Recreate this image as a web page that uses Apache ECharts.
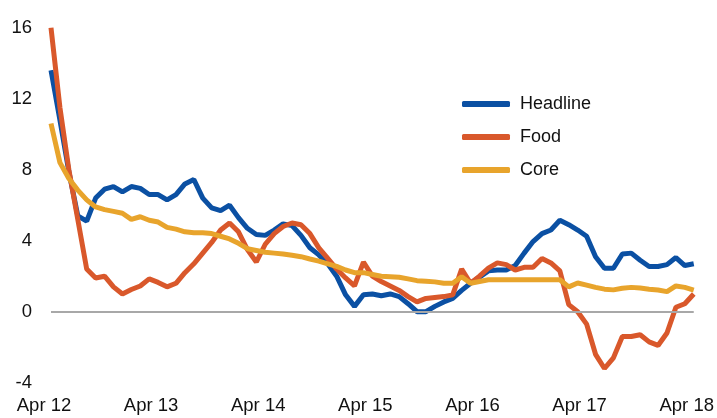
<!DOCTYPE html>
<html>
<head>
<meta charset="utf-8">
<style>
  html, body { margin: 0; padding: 0; background: #fff; }
  #Inflation { width: 717px; height: 418px; }
</style>
<script src="https://cdn.jsdelivr.net/npm/echarts@6/dist/echarts.min.js"></script>
</head>
<body>
<div id="Inflation"></div>
<script>
// monthly, Apr 2012 .. Apr 2018
var yearLabels = ['Apr 12', 'Apr 13', 'Apr 14', 'Apr 15', 'Apr 16', 'Apr 17', 'Apr 18'];

var headline = [
  13.6, 10.8, 7.9, 5.4, 5.1, 6.4, 6.9, 7.05, 6.75, 7.05, 6.95, 6.6,
  6.6, 6.3, 6.6, 7.2, 7.45, 6.4, 5.85, 5.7, 6.0, 5.3, 4.7, 4.35,
  4.3, 4.6, 4.95, 4.85, 4.3, 3.6, 3.2, 2.7, 2.0, 0.95, 0.3, 0.95,
  1.0, 0.9, 1.0, 0.85, 0.45, 0.0, 0.0, 0.3, 0.55, 0.75, 1.2, 1.6,
  1.95, 2.3, 2.35, 2.35, 2.6, 3.3, 3.95, 4.4, 4.6, 5.15, 4.9, 4.6,
  4.25, 3.1, 2.45, 2.45, 3.25, 3.3, 2.9, 2.55, 2.55, 2.65, 3.05, 2.6,
  2.7
];

var food = [
  16, 11.5, 8, 5.2, 2.4, 1.9, 2.0, 1.4, 1.0, 1.25, 1.45, 1.85,
  1.65, 1.4, 1.6, 2.2, 2.7, 3.3, 3.9, 4.6, 5.0, 4.5, 3.5, 2.8,
  3.8, 4.4, 4.8, 5.0, 4.9, 4.4, 3.6, 3.0, 2.4, 1.9, 1.45, 2.8,
  2.0, 1.7, 1.45, 1.2, 0.85, 0.55, 0.75, 0.8, 0.85, 0.95, 2.4, 1.6,
  2.0, 2.45, 2.75, 2.65, 2.35, 2.5, 2.5, 3.0, 2.75, 2.3, 0.4, 0.0,
  -0.7, -2.4, -3.2, -2.6, -1.4, -1.4, -1.3, -1.7, -1.9, -1.2, 0.25, 0.45,
  1.0
];

var core = [
  10.6, 8.4, 7.5, 6.85, 6.3, 5.9, 5.75, 5.65, 5.55, 5.2, 5.35, 5.15,
  5.05, 4.75, 4.65, 4.5, 4.45, 4.45, 4.4, 4.25, 4.1, 3.85, 3.55, 3.45,
  3.35, 3.3, 3.25, 3.18, 3.1, 2.97, 2.85, 2.7, 2.55, 2.35, 2.2, 2.2,
  2.1, 2.0, 1.97, 1.94, 1.85, 1.75, 1.72, 1.68, 1.6, 1.6, 1.97, 1.6,
  1.7, 1.8, 1.8, 1.8, 1.8, 1.8, 1.8, 1.8, 1.8, 1.8, 1.4, 1.62,
  1.5, 1.37, 1.27, 1.23, 1.32, 1.37, 1.33, 1.27, 1.22, 1.13, 1.45, 1.37,
  1.22
];

// one category per month, label only every April
var months = [];
for (var i = 0; i < headline.length; i++) {
  months.push(i % 12 === 0 ? yearLabels[i / 12] : '');
}

var fontName = "'Liberation Sans', Arial, sans-serif";

var dom = document.getElementById('Inflation');
var myChart = echarts.init(dom, null, {
  renderer: 'canvas',
  useDirtyRect: false
});

var option;

option = {
  animation: false,
  color: ['#0b50a3', '#d9582b', '#e8a42c'],
  grid: {
    left: 51,
    right: 18,
    top: 27.7,
    bottom: 35.3
  },
  legend: {
    orient: 'vertical',
    left: 457,
    top: 88,
    itemWidth: 48,
    itemHeight: 6,
    itemGap: 11,
    icon: 'roundRect',
    textStyle: {
      fontFamily: fontName,
      fontSize: 18,
      lineHeight: 22,
      color: '#111',
      padding: [0, 0, 0, 5]
    },
    data: ['Headline', 'Food', 'Core']
  },
  xAxis: {
    type: 'category',
    data: months,
    boundaryGap: false,
    axisLine: { show: false },
    axisTick: { show: false },
    splitLine: { show: false },
    axisLabel: {
      interval: 0,
      margin: 14,
      padding: [0, 14, 0, 0],
      fontFamily: fontName,
      fontSize: 18.5,
      color: '#111'
    }
  },
  yAxis: {
    type: 'value',
    min: -4,
    max: 16,
    interval: 4,
    axisLine: { show: false },
    axisTick: { show: false },
    splitLine: { show: false },
    axisLabel: {
      margin: 19,
      fontFamily: fontName,
      fontSize: 18.5,
      color: '#111'
    }
  },
  series: [
    {
      name: 'Headline',
      type: 'line',
      data: headline,
      showSymbol: false,
      lineStyle: { width: 5 },
      markLine: {
        silent: true,
        symbol: 'none',
        label: { show: false },
        lineStyle: { color: '#a8a8a8', width: 2, type: 'solid' },
        data: [{ yAxis: 0 }]
      },
      z: 2
    },
    {
      name: 'Food',
      type: 'line',
      data: food,
      showSymbol: false,
      lineStyle: { width: 5 },
      z: 3
    },
    {
      name: 'Core',
      type: 'line',
      data: core,
      showSymbol: false,
      lineStyle: { width: 5 },
      z: 4
    }
  ]
};

if (option && typeof option === 'object') {
  myChart.setOption(option);
}

window.addEventListener('resize', myChart.resize);
</script>
</body>
</html>
